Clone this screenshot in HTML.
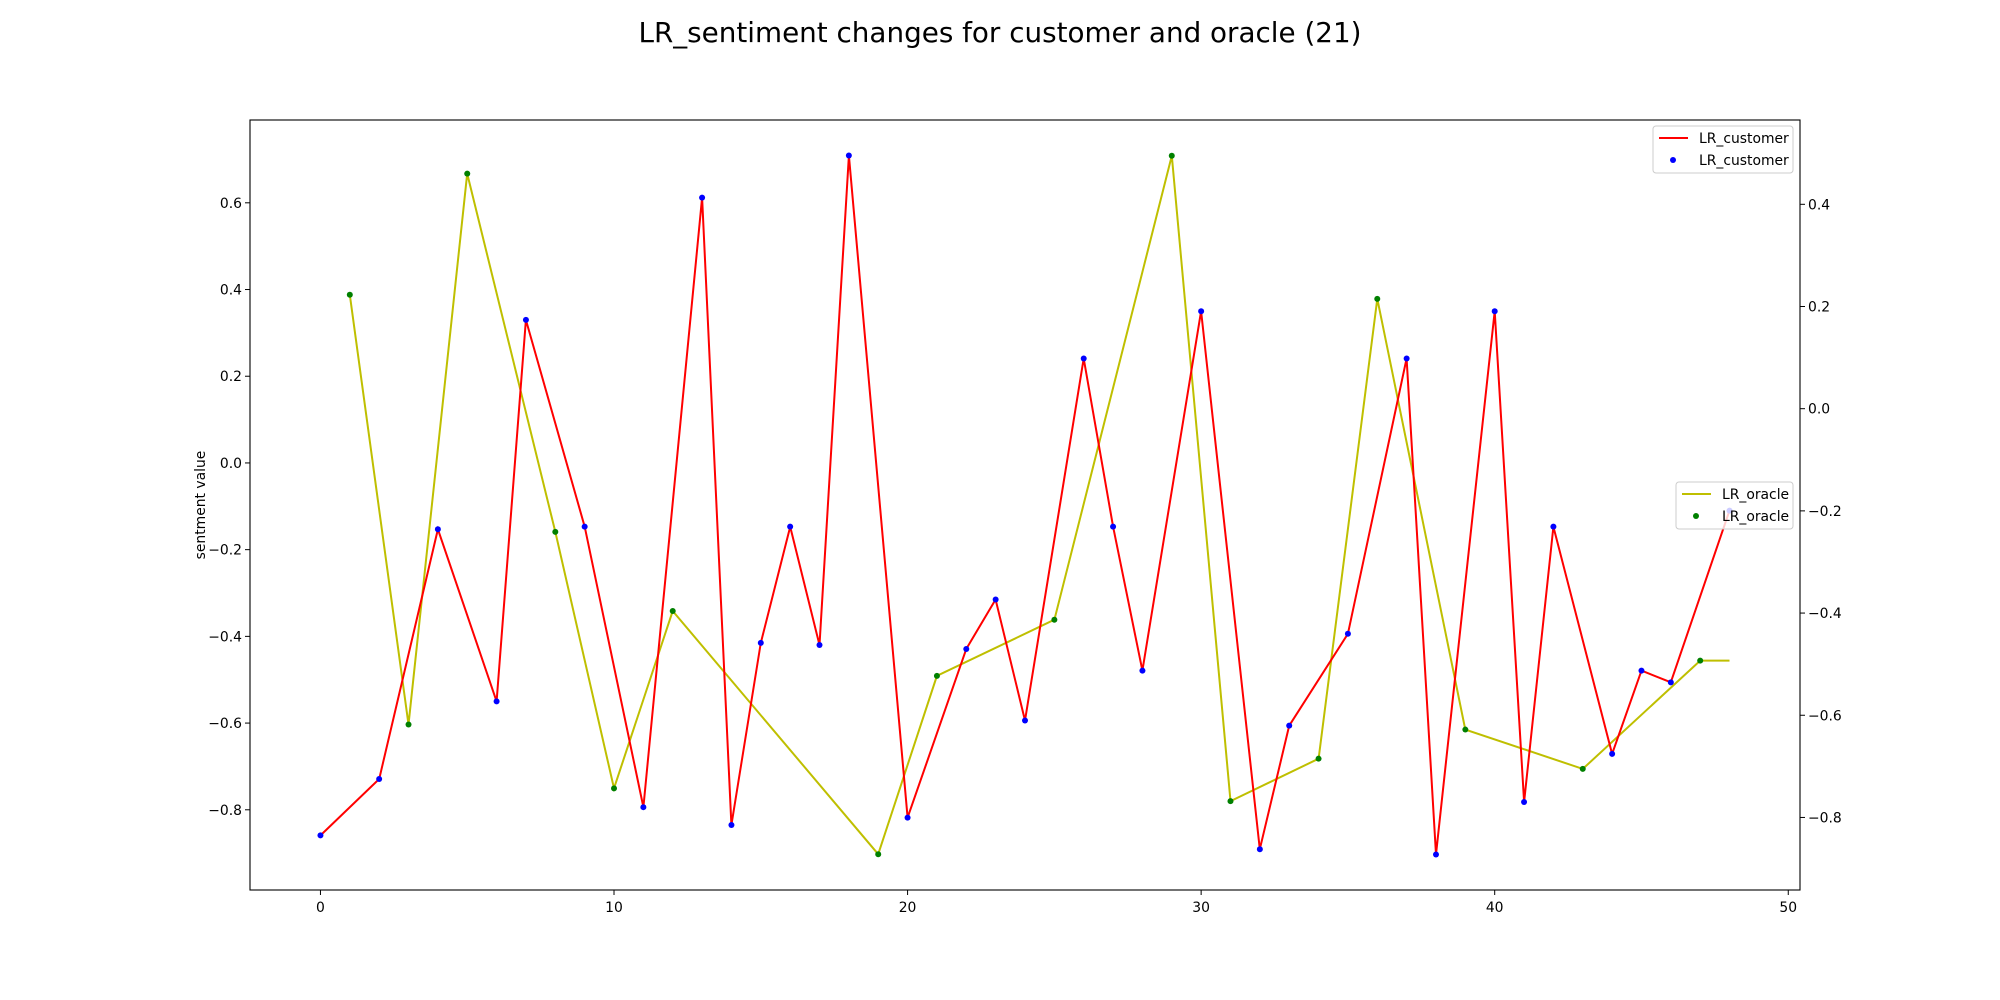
<!DOCTYPE html>
<html><head><meta charset="utf-8">
<style>
html,body{margin:0;padding:0;background:#fff;}
svg{display:block;font-family:"DejaVu Sans","Liberation Sans",sans-serif;}
</style></head>
<body>
<svg id="chart" width="2000" height="1000" viewBox="0 0 2000 1000" xmlns="http://www.w3.org/2000/svg">
<text x="1000" y="42" text-anchor="middle" font-size="27.8" fill="#000">LR_sentiment changes for customer and oracle (21)</text>
<g id="plot"></g>
</svg>
<script>
const customerX = [0,2,4,6,7,9,11,13,14,15,16,17,18,20,22,23,24,26,27,28,30,32,33,35,37,38,40,41,42,44,45,46,48];
const customerY = [-0.859,-0.729,-0.153,-0.55,0.33,-0.147,-0.794,0.612,-0.835,-0.415,-0.147,-0.42,0.709,-0.818,-0.429,-0.315,-0.594,0.241,-0.147,-0.479,0.35,-0.891,-0.606,-0.394,0.241,-0.903,0.35,-0.782,-0.147,-0.671,-0.479,-0.506,-0.11];
const oracleX = [1,3,5,8,10,12,19,21,25,29,31,34,36,39,43,47,48];
const oracleY = [0.223,-0.618,0.46,-0.241,-0.743,-0.396,-0.872,-0.523,-0.413,0.495,-0.768,-0.685,0.215,-0.628,-0.705,-0.493,-0.493];
const xTicks = [0,10,20,30,40,50];
const yLeftTicks = [-0.8,-0.6,-0.4,-0.2,0.0,0.2,0.4,0.6];
const yRightTicks = [-0.8,-0.6,-0.4,-0.2,0.0,0.2,0.4];

const NS="http://www.w3.org/2000/svg";
const L=250,R=1800,T=120,B=890;
const xmin=-2.4,xmax=50.4, ylmin=-0.985, ylmax=0.791, yrmin=-0.942, yrmax=0.565;
const xs=v=>L+(v-xmin)/(xmax-xmin)*(R-L);
const yl=v=>B-(v-ylmin)/(ylmax-ylmin)*(B-T);
const yr=v=>B-(v-yrmin)/(yrmax-yrmin)*(B-T);
const g=document.getElementById('plot');
function mk(tag,attrs,parent){const e=document.createElementNS(NS,tag);for(const k in attrs)e.setAttribute(k,attrs[k]);(parent||g).appendChild(e);return e;}

let op=oracleX.map((x,i)=>xs(x).toFixed(1)+','+yr(oracleY[i]).toFixed(1)).join(' ');
const ol=mk('polyline',{points:op,fill:'none',stroke:'#bfbf00','stroke-width':2});


// last oracle point has no marker in reference
oracleX.forEach((x,i)=>{ if(i===oracleX.length-1) return;
 const c=mk('circle',{cx:xs(x),cy:yr(oracleY[i]),r:3,fill:'#008000'});
 
 
});
let cp=customerX.map((x,i)=>xs(x).toFixed(1)+','+yl(customerY[i]).toFixed(1)).join(' ');
const cl=mk('polyline',{points:cp,fill:'none',stroke:'#ff0000','stroke-width':2});


customerX.forEach((x,i)=>{
 const c=mk('circle',{cx:xs(x),cy:yl(customerY[i]),r:3,fill:'#0000ff'});
 
 
});

const fr=mk('rect',{x:L,y:T,width:R-L,height:B-T,fill:'none',stroke:'#000','stroke-width':1.1});



xTicks.forEach(t=>{const x=xs(t);
 mk('line',{x1:x,x2:x,y1:B,y2:B+5,stroke:'#000','stroke-width':1});
 const tx=mk('text',{x:x,y:B+22,'text-anchor':'middle','font-size':13.9});tx.textContent=t;
 
 
});
yLeftTicks.forEach(t=>{const y=yl(t);
 mk('line',{x1:L-5,x2:L,y1:y,y2:y,stroke:'#000','stroke-width':1});
 const tx=mk('text',{x:L-8,y:y+5,'text-anchor':'end','font-size':13.9});tx.textContent=t.toFixed(1).replace('-','\u2212');
 
 
});
yRightTicks.forEach(t=>{const y=yr(t);
 mk('line',{x1:R,x2:R+5,y1:y,y2:y,stroke:'#000','stroke-width':1});
 const tx=mk('text',{x:R+8,y:y+5,'text-anchor':'start','font-size':13.9});tx.textContent=t.toFixed(1).replace('-','\u2212');
 
 
});
const yt=mk('text',{x:0,y:0,'text-anchor':'middle','font-size':13.9,transform:'translate(205,'+((T+B)/2)+') rotate(-90)'});
yt.textContent='sentment value';



function legend(x,y,w,name,lineColor,dotColor,label){
 const lg=mk('g',{});
 
 
 mk('rect',{x:x,y:y,width:w,height:47,rx:3,fill:'#fff','fill-opacity':0.8,stroke:'#ccc','stroke-width':1},lg);
 mk('line',{x1:x+6,x2:x+35,y1:y+12,y2:y+12,stroke:lineColor,'stroke-width':2},lg);
 mk('circle',{cx:x+20,cy:y+34,r:3,fill:dotColor},lg);
 const t1=mk('text',{x:x+46,y:y+17,'font-size':13.9},lg);t1.textContent=label;
 const t2=mk('text',{x:x+46,y:y+39,'font-size':13.9},lg);t2.textContent=label;
}
legend(1653,126,140,'legend-customer','#ff0000','#0000ff','LR_customer');
legend(1676,482,117,'legend-oracle','#bfbf00','#008000','LR_oracle');
</script>
</body></html>
